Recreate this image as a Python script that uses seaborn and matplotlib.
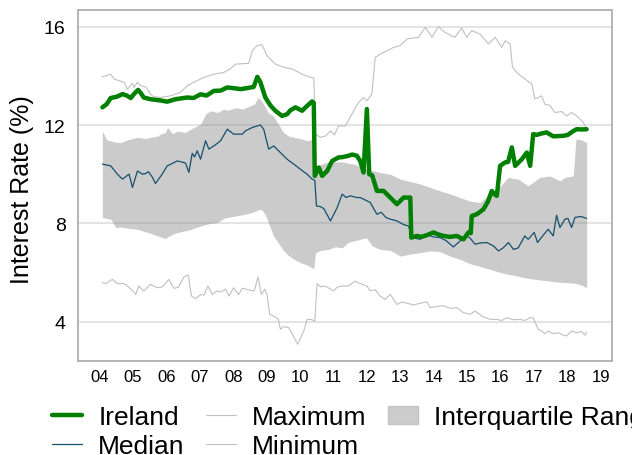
import matplotlib
matplotlib.use("Agg")
import matplotlib.pyplot as plt
from matplotlib.lines import Line2D
from matplotlib.patches import Patch
import seaborn as sns
import pandas as pd

# decimal years, values in %
ireland_t = [2004.08, 2004.21, 2004.33, 2004.51, 2004.68, 2004.81, 2004.93, 2005.05, 2005.15, 2005.23,
             2005.32, 2005.52, 2005.82, 2006.02, 2006.27, 2006.62, 2006.81, 2007.02, 2007.20, 2007.42,
             2007.62, 2007.82, 2008.01, 2008.22, 2008.40, 2008.61, 2008.72, 2008.81, 2008.96, 2009.11,
             2009.26, 2009.46, 2009.61, 2009.71, 2009.86, 2010.06, 2010.21, 2010.36, 2010.41, 2010.44,
             2010.56, 2010.66, 2010.81, 2010.96, 2011.15, 2011.29, 2011.45, 2011.56, 2011.70, 2011.80,
             2011.90, 2012.00, 2012.07, 2012.16, 2012.30, 2012.50, 2012.70, 2012.90, 2013.10, 2013.30,
             2013.33, 2013.50, 2013.63, 2013.80, 2013.99, 2014.14, 2014.29, 2014.49, 2014.69, 2014.89,
             2015.04, 2015.11, 2015.14, 2015.29, 2015.49, 2015.63, 2015.74, 2015.81, 2015.89, 2015.99,
             2016.14, 2016.23, 2016.34, 2016.44, 2016.64, 2016.79, 2016.89, 2016.98, 2017.09, 2017.21,
             2017.38, 2017.58, 2017.72, 2017.88, 2018.02, 2018.14, 2018.28, 2018.44, 2018.58]
ireland_v = [12.72, 12.85, 13.10, 13.15, 13.26, 13.20, 13.10, 13.30, 13.43, 13.30,
             13.12, 13.05, 13.00, 12.95, 13.05, 13.12, 13.10, 13.25, 13.20, 13.39,
             13.40, 13.53, 13.50, 13.46, 13.50, 13.55, 13.96, 13.75, 13.12, 12.80,
             12.58, 12.37, 12.44, 12.60, 12.72, 12.58, 12.78, 12.96, 12.90, 9.93,
             10.27, 9.93, 10.13, 10.54, 10.68, 10.70, 10.75, 10.80, 10.75, 10.54,
             10.07, 12.65, 10.00, 9.95, 9.32, 9.32, 9.05, 8.78, 9.05, 9.05,
             7.42, 7.49, 7.45, 7.52, 7.63, 7.55, 7.49, 7.45, 7.49, 7.35,
             7.63, 7.60, 8.30, 8.37, 8.57, 8.90, 9.32, 9.20, 9.12, 10.34,
             10.48, 10.50, 11.09, 10.34, 10.61, 10.88, 10.34, 11.63, 11.60, 11.65,
             11.70, 11.54, 11.55, 11.56, 11.60, 11.72, 11.83, 11.82, 11.83]

median_t = [2004.08, 2004.33, 2004.53, 2004.68, 2004.88, 2004.98, 2005.13, 2005.28, 2005.38, 2005.46,
            2005.58, 2005.67, 2005.87, 2006.02, 2006.12, 2006.32, 2006.45, 2006.57, 2006.67, 2006.77,
            2006.84, 2006.92, 2007.02, 2007.17, 2007.27, 2007.47, 2007.62, 2007.82, 2008.01, 2008.27,
            2008.36, 2008.57, 2008.81, 2008.91, 2009.06, 2009.21, 2009.41, 2009.61, 2009.81, 2010.01,
            2010.21, 2010.36, 2010.44, 2010.49, 2010.61, 2010.71, 2010.91, 2011.11, 2011.26, 2011.38,
            2011.50, 2011.70, 2011.80, 2011.95, 2012.10, 2012.30, 2012.43, 2012.57, 2012.70, 2012.90,
            2013.10, 2013.25, 2013.35, 2013.60, 2013.80, 2013.99, 2014.19, 2014.37, 2014.59, 2014.79,
            2014.99, 2015.09, 2015.24, 2015.39, 2015.59, 2015.79, 2015.94, 2016.08, 2016.24, 2016.39,
            2016.53, 2016.73, 2016.83, 2017.01, 2017.11, 2017.27, 2017.43, 2017.58, 2017.68, 2017.78,
            2017.93, 2018.02, 2018.13, 2018.23, 2018.41, 2018.58]
median_v = [10.41, 10.34, 10.00, 9.80, 10.00, 9.46, 10.13, 10.00, 10.03, 10.10,
            9.87, 9.62, 10.00, 10.34, 10.40, 10.54, 10.50, 10.45, 10.07, 10.85,
            10.70, 10.95, 10.61, 11.36, 11.02, 11.20, 11.36, 11.83, 11.63, 11.63,
            11.76, 11.90, 12.00, 11.83, 11.02, 11.15, 10.88, 10.61, 10.41, 10.20,
            10.00, 9.80, 9.75, 8.71, 8.68, 8.60, 8.10, 8.64, 9.19, 9.05,
            9.12, 9.05, 9.05, 8.95, 8.85, 8.37, 8.45, 8.24, 8.17, 8.10,
            7.95, 7.89, 7.42, 7.35, 7.55, 7.45, 7.42, 7.30, 7.04, 7.28,
            7.49, 7.40, 7.15, 7.20, 7.22, 7.08, 6.88, 7.00, 7.22, 6.94,
            7.00, 7.49, 7.35, 7.63, 7.22, 7.50, 7.76, 7.49, 8.33, 7.83,
            8.17, 8.20, 7.83, 8.24, 8.28, 8.20]

maximum_t = [2004.08, 2004.33, 2004.43, 2004.73, 2004.83, 2004.98, 2005.03, 2005.13, 2005.23, 2005.38,
             2005.52, 2005.62, 2005.82, 2006.12, 2006.42, 2006.62, 2006.82, 2007.12, 2007.42, 2007.72,
             2007.92, 2008.07, 2008.46, 2008.57, 2008.71, 2008.86, 2009.01, 2009.26, 2009.51, 2009.76,
             2010.06, 2010.31, 2010.41, 2010.46, 2010.61, 2010.76, 2010.91, 2011.03, 2011.15, 2011.35,
             2011.55, 2011.75, 2011.90, 2012.00, 2012.15, 2012.25, 2012.40, 2012.60, 2012.80, 2013.00,
             2013.20, 2013.55, 2013.75, 2013.95, 2014.14, 2014.34, 2014.64, 2014.84, 2014.99, 2015.14,
             2015.39, 2015.64, 2015.79, 2015.84, 2016.04, 2016.14, 2016.29, 2016.36, 2016.54, 2016.74,
             2016.94, 2017.03, 2017.23, 2017.33, 2017.48, 2017.63, 2017.83, 2017.98, 2018.13, 2018.28,
             2018.48, 2018.58]
maximum_v = [13.96, 14.07, 13.87, 13.74, 13.46, 13.70, 13.53, 13.74, 13.60, 13.55,
             13.26, 13.15, 13.12, 13.19, 13.33, 13.60, 13.74, 13.94, 14.07, 14.14,
             14.30, 14.48, 14.51, 15.02, 15.23, 15.27, 14.82, 14.48, 14.35, 14.28,
             14.07, 13.94, 13.91, 11.63, 11.50, 11.55, 11.76, 11.60, 11.97, 11.95,
             12.44, 12.92, 13.12, 12.99, 13.26, 14.75, 14.89, 15.02, 15.16, 15.23,
             15.50, 15.57, 15.98, 15.57, 16.00, 15.77, 15.57, 15.95, 15.57, 15.84,
             15.70, 15.30, 15.50, 15.57, 15.16, 15.43, 15.30, 14.35, 14.07, 13.87,
             13.67, 13.06, 13.19, 12.85, 12.80, 12.51, 12.55, 12.37, 12.51, 12.37,
             12.11, 11.83]

minimum_t = [2004.08, 2004.18, 2004.38, 2004.53, 2004.72, 2004.83, 2004.98, 2005.08, 2005.17, 2005.32,
             2005.52, 2005.72, 2005.88, 2006.07, 2006.22, 2006.36, 2006.52, 2006.65, 2006.75, 2006.87,
             2007.02, 2007.12, 2007.24, 2007.37, 2007.52, 2007.62, 2007.77, 2007.87, 2008.01, 2008.16,
             2008.27, 2008.51, 2008.63, 2008.74, 2008.84, 2008.94, 2009.01, 2009.09, 2009.26, 2009.35,
             2009.41, 2009.51, 2009.66, 2009.93, 2010.11, 2010.21, 2010.34, 2010.44, 2010.51, 2010.61,
             2010.76, 2011.00, 2011.11, 2011.26, 2011.44, 2011.65, 2011.80, 2012.00, 2012.10, 2012.25,
             2012.40, 2012.55, 2012.70, 2012.90, 2013.05, 2013.20, 2013.40, 2013.60, 2013.80, 2013.90,
             2014.10, 2014.29, 2014.49, 2014.69, 2014.89, 2015.09, 2015.24, 2015.49, 2015.69, 2015.89,
             2016.04, 2016.19, 2016.39, 2016.59, 2016.73, 2016.88, 2016.98, 2017.13, 2017.23, 2017.33,
             2017.43, 2017.58, 2017.73, 2017.88, 2017.98, 2018.13, 2018.28, 2018.43, 2018.53, 2018.58]
minimum_v = [5.59, 5.55, 5.72, 5.55, 5.55, 5.45, 5.27, 5.11, 5.45, 5.25,
             5.52, 5.38, 5.42, 5.72, 5.36, 5.40, 5.82, 5.90, 5.04, 4.94,
             5.10, 5.08, 5.45, 5.11, 5.25, 5.20, 5.32, 5.04, 5.38, 5.10,
             5.36, 5.28, 5.25, 5.82, 5.11, 5.32, 5.10, 4.30, 4.19, 4.10,
             3.69, 3.80, 3.76, 3.08, 3.62, 4.09, 4.09, 4.02, 5.55, 5.42,
             5.45, 5.25, 5.40, 5.45, 5.45, 5.65, 5.55, 5.45, 5.25, 5.30,
             5.04, 4.90, 5.11, 4.70, 4.80, 4.75, 4.68, 4.75, 4.81, 4.57,
             4.62, 4.65, 4.54, 4.57, 4.37, 4.30, 4.43, 4.19, 4.10, 4.09,
             4.05, 4.16, 4.08, 4.09, 4.05, 4.16, 4.16, 3.69, 3.62, 3.51,
             3.62, 3.51, 3.55, 3.45, 3.42, 3.62, 3.55, 3.60, 3.45, 3.58]

iqr_t = [2004.08, 2004.21, 2004.33, 2004.48, 2004.63, 2004.84, 2005.14, 2005.38, 2005.52, 2005.73,
         2005.82, 2005.97, 2006.03, 2006.18, 2006.33, 2006.57, 2006.72, 2007.02, 2007.17, 2007.32,
         2007.53, 2007.71, 2007.83, 2008.07, 2008.28, 2008.51, 2008.63, 2008.75, 2008.84, 2008.96,
         2009.05, 2009.20, 2009.35, 2009.50, 2009.65, 2009.80, 2010.01, 2010.22, 2010.41, 2010.46,
         2010.61, 2010.85, 2011.06, 2011.26, 2011.44, 2011.65, 2011.80, 2011.98, 2012.16, 2012.40,
         2012.70, 2013.00, 2013.30, 2013.60, 2013.90, 2014.19, 2014.49, 2014.79, 2015.09, 2015.39,
         2015.69, 2015.99, 2016.23, 2016.53, 2016.83, 2017.18, 2017.48, 2017.78, 2017.93, 2018.18,
         2018.26, 2018.41, 2018.58]
iqr_upper = [11.76, 11.40, 11.36, 11.30, 11.29, 11.40, 11.50, 11.45, 11.50, 11.55,
             11.63, 11.70, 11.90, 11.65, 11.75, 11.70, 11.83, 12.04, 12.44, 12.58,
             12.51, 12.65, 12.60, 12.70, 12.65, 12.78, 12.85, 13.12, 13.00, 12.72,
             12.50, 12.37, 12.04, 11.70, 11.56, 11.50, 11.45, 11.36, 11.43, 10.30,
             10.40, 10.50, 10.50, 10.50, 10.45, 10.40, 10.30, 10.20, 10.15, 10.07,
             10.00, 9.80, 9.70, 9.60, 9.46, 9.32, 9.20, 9.05, 8.90, 8.85,
             9.20, 9.50, 9.87, 9.80, 9.53, 9.87, 9.93, 9.73, 9.87, 9.93,
             11.43, 11.40, 11.29]
iqr_lower = [8.24, 8.20, 8.17, 7.83, 7.85, 7.80, 7.76, 7.65, 7.60, 7.49,
             7.45, 7.38, 7.45, 7.55, 7.63, 7.70, 7.75, 7.89, 7.95, 8.00,
             8.03, 8.20, 8.24, 8.30, 8.35, 8.42, 8.48, 8.55, 8.57, 8.35,
             8.03, 7.50, 7.20, 6.90, 6.70, 6.55, 6.40, 6.30, 6.15, 6.80,
             6.90, 6.94, 7.05, 7.00, 7.22, 7.30, 7.35, 7.42, 7.08, 6.94,
             6.90, 6.67, 6.75, 6.81, 6.88, 6.85, 6.67, 6.54, 6.36, 6.25,
             6.13, 6.00, 5.93, 5.85, 5.76, 5.70, 5.65, 5.60, 5.59, 5.57,
             5.55, 5.50, 5.38]

year_ticks = list(range(2004, 2020))
year_labels = ["%02d" % (y % 100) for y in year_ticks]

GREEN = "#008000"
NAVY = "#14506e"
LIGHT = "#c0c0c0"
FRAME = "#b0b0b0"

sns.set_theme(style="white")
plt.rcParams["font.family"] = ["Liberation Sans", "DejaVu Sans"]

fig = plt.figure(figsize=(6.32, 4.56), dpi=100)
ax = fig.add_axes([78 / 632, 1 - 362 / 456, (612 - 78) / 632, (362 - 11) / 456])

ax.fill_between(iqr_t, iqr_lower, iqr_upper, color="#7f7f7f", alpha=0.4, linewidth=0, zorder=2)
sns.lineplot(x=maximum_t, y=maximum_v, ax=ax, color=LIGHT, linewidth=0.8, zorder=3)
sns.lineplot(x=minimum_t, y=minimum_v, ax=ax, color=LIGHT, linewidth=0.8, zorder=3)
sns.lineplot(x=median_t, y=median_v, ax=ax, color=NAVY, linewidth=0.9, zorder=4)
sns.lineplot(x=ireland_t, y=ireland_v, ax=ax, color=GREEN, linewidth=3.2, zorder=5)

ax.set_xlim(2003.35, 2019.34)
ax.set_ylim(2.4, 16.68)
ax.set_yticks([4, 8, 12, 16])
ax.set_xticks(year_ticks)
ax.set_xticklabels(year_labels)
ax.set_xlabel("")
ax.set_ylabel("Interest Rate (%)", fontsize=18, color="black")
ax.yaxis.set_label_coords(-0.082, 0.49)

ax.set_axisbelow(True)
ax.yaxis.grid(True, color="#e2e2e2", linewidth=1.3)
ax.xaxis.grid(False)
for s in ax.spines.values():
    s.set_color(FRAME)
    s.set_linewidth(1.3)

ax.tick_params(axis="y", length=0, pad=9, labelsize=14, labelcolor="black")
ax.tick_params(axis="x", length=3, width=1, color=FRAME, pad=3, labelsize=12, labelcolor="black")

handles = [
    Line2D([], [], color=GREEN, linewidth=3.2),
    Line2D([], [], color=NAVY, linewidth=0.9),
    Line2D([], [], color=LIGHT, linewidth=0.8),
    Line2D([], [], color=LIGHT, linewidth=0.8),
    Patch(facecolor="#cccccc", edgecolor="#c4c4c4"),
]
labels = ["Ireland", "Median", "Maximum", "Minimum", "Interquartile Range"]
fig.legend(handles, labels, ncol=3, loc="upper left", bbox_to_anchor=(52 / 632, 1 - 406 / 456),
           frameon=False, fontsize=19, borderpad=0, borderaxespad=0, handlelength=1.15,
           handletextpad=0.6, columnspacing=0.8, labelspacing=0.2, labelcolor="black")

fig.savefig("out.png", dpi=100)
